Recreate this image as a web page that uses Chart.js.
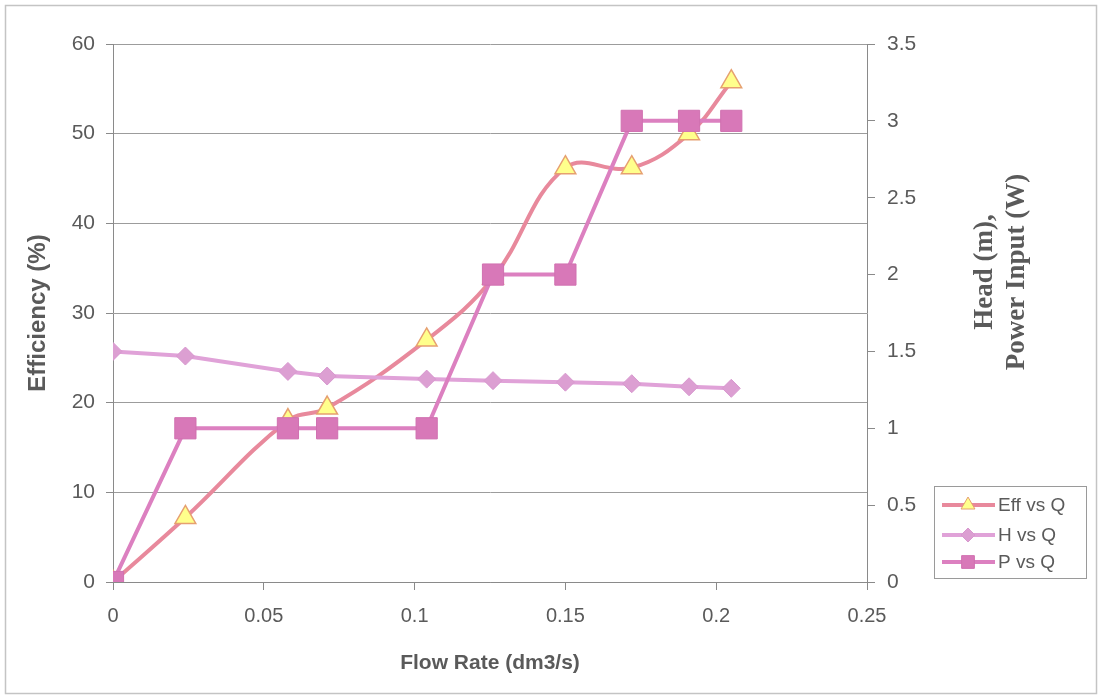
<!DOCTYPE html>
<html>
<head>
<meta charset="utf-8">
<script src="https://cdn.jsdelivr.net/npm/chart.js@4.4.1/dist/chart.umd.min.js"></script>
<style>
html, body { margin: 0; padding: 0; background: #fff; }
#wrap { width: 1102px; height: 700px; }
</style>
</head>
<body>
<div id="wrap"><canvas id="pump" width="1102" height="700"></canvas></div>
<script>
// values
const flowRate = [0, 0.024, 0.058, 0.071, 0.104, 0.126, 0.150, 0.172, 0.191, 0.205];
const efficiency = [0, 7.2, 18.0, 19.4, 27.0, 33.9, 46.2, 46.2, 50.0, 55.8];
const head = [1.50, 1.47, 1.37, 1.34, 1.32, 1.31, 1.30, 1.29, 1.27, 1.26];
const power = [0, 1, 1, 1, 1, 2, 2, 3, 3, 3];

const seriesNames = ['Eff vs Q', 'H vs Q', 'P vs Q'];
const xTickLabels = ['0', '0.05', '0.1', '0.15', '0.2', '0.25'];
const leftTickLabels = ['0', '10', '20', '30', '40', '50', '60'];
const rightTickLabels = ['0', '0.5', '1', '1.5', '2', '2.5', '3', '3.5'];

const xTitle = 'Flow Rate (dm3/s)';
const leftTitle = 'Efficiency (%)';
const rightTitle = ['Head (m),', 'Power Input (W)'];

const toPoints = ys => flowRate.map((x, i) => ({ x: x, y: ys[i] }));

const sans = 'Liberation Sans, Arial, sans-serif';
const serif = 'Liberation Serif, Times New Roman, serif';
const axisGray = '#8a8a8a';
const textGray = '#5a5a5a';

const framePlugin = {
  id: 'frame',
  beforeDraw(chart) {
    const ctx = chart.ctx;
    ctx.save();
    ctx.fillStyle = '#ffffff';
    ctx.fillRect(0, 0, chart.width, chart.height);
    ctx.strokeStyle = '#c4c4c4';
    ctx.lineWidth = 1.5;
    ctx.strokeRect(5.5, 5.5, chart.width - 11, chart.height - 12);
    ctx.restore();
  },
  afterDraw(chart) {
    const ctx = chart.ctx;
    ctx.save();

    // right axis title, reads bottom to top
    ctx.fillStyle = textGray;
    ctx.font = 'bold 27px ' + serif;
    ctx.textAlign = 'center';
    ctx.textBaseline = 'middle';
    rightTitle.forEach((line, i) => {
      ctx.save();
      ctx.translate(985 + i * 32, 272);
      ctx.rotate(-Math.PI / 2);
      ctx.fillText(line, 0, 0);
      ctx.restore();
    });

    // legend box
    const bx = 934, by = 486, bw = 152, bh = 92;
    ctx.fillStyle = '#ffffff';
    ctx.fillRect(bx, by, bw, bh);
    ctx.strokeStyle = '#9a9a9a';
    ctx.lineWidth = 1;
    ctx.strokeRect(bx + 0.5, by + 0.5, bw, bh);

    const rows = [505, 535, 562];
    chart.data.datasets.forEach((ds, i) => {
      const y = rows[i];
      ctx.strokeStyle = ds.borderColor;
      ctx.lineWidth = 4;
      ctx.beginPath();
      ctx.moveTo(942, y);
      ctx.lineTo(995, y);
      ctx.stroke();
      ctx.fillStyle = ds.pointBackgroundColor;
      ctx.strokeStyle = ds.pointBorderColor;
      ctx.lineWidth = 1;
      Chart.helpers.drawPoint(ctx, {
        pointStyle: ds.pointStyle,
        radius: ds.legendRadius,
        rotation: 0,
        borderWidth: 1
      }, 968, y);
      ctx.fillStyle = textGray;
      ctx.font = '19px ' + sans;
      ctx.textAlign = 'left';
      ctx.textBaseline = 'middle';
      ctx.fillText(ds.label, 998, y + 1);
    });
    ctx.restore();
  }
};

new Chart(document.getElementById('pump'), {
  type: 'line',
  data: {
    datasets: [
      {
        label: seriesNames[0],
        data: toPoints(efficiency),
        yAxisID: 'y',
        borderColor: '#e8899c',
        borderWidth: 4,
        tension: 0.4,
        pointStyle: 'triangle',
        pointRadius: 12,
        legendRadius: 8,
        pointBackgroundColor: '#ffff8c',
        pointBorderColor: '#e6a070',
        pointBorderWidth: 1.5,
        order: 3
      },
      {
        label: seriesNames[1],
        data: toPoints(head),
        yAxisID: 'y1',
        borderColor: '#e0a2d8',
        borderWidth: 4,
        tension: 0,
        pointStyle: 'rectRot',
        pointRadius: 9,
        legendRadius: 7,
        pointBackgroundColor: '#dc9fd2',
        pointBorderColor: '#d898cf',
        pointBorderWidth: 1,
        order: 2
      },
      {
        label: seriesNames[2],
        data: toPoints(power),
        yAxisID: 'y1',
        borderColor: '#dc80c0',
        borderWidth: 4,
        tension: 0,
        pointStyle: 'rect',
        pointRadius: 15,
        legendRadius: 9,
        pointBackgroundColor: '#d878b8',
        pointBorderColor: '#d070b0',
        pointBorderWidth: 1,
        order: 1
      }
    ]
  },
  options: {
    responsive: false,
    animation: false,
    layout: { padding: { top: 44, left: 0, right: 0, bottom: 0 } },
    plugins: {
      legend: { display: false },
      tooltip: { enabled: false }
    },
    scales: {
      x: {
        type: 'linear',
        min: 0,
        max: 0.25,
        afterFit: s => { s.height = 118; },
        ticks: {
          stepSize: 0.05,
          padding: 14,
          color: textGray,
          font: { family: sans, size: 20 },
          maxRotation: 0,
          callback: (v, i) => xTickLabels[i]
        },
        grid: { drawOnChartArea: false, drawTicks: true, tickLength: 8, color: axisGray },
        border: { display: true, color: axisGray, width: 1 },
        title: {
          display: true,
          text: xTitle,
          color: textGray,
          font: { family: sans, size: 21, weight: 'bold' },
          padding: { top: 0, bottom: 24 }
        }
      },
      y: {
        position: 'left',
        min: 0,
        max: 60,
        afterFit: s => { s.width = 113; },
        ticks: {
          stepSize: 10,
          padding: 11,
          color: textGray,
          font: { family: sans, size: 21 },
          callback: (v, i) => leftTickLabels[i]
        },
        grid: { color: '#9c9c9c', lineWidth: 1, drawTicks: true, tickLength: 7, tickColor: axisGray },
        border: { display: true, color: axisGray, width: 1 },
        title: {
          display: true,
          text: leftTitle,
          color: textGray,
          font: { family: sans, size: 24, weight: 'bold' },
          padding: { top: 24, bottom: 0 }
        }
      },
      y1: {
        position: 'right',
        min: 0,
        max: 3.5,
        afterFit: s => { s.width = 235; },
        ticks: {
          stepSize: 0.5,
          padding: 12,
          color: textGray,
          font: { family: sans, size: 21 },
          callback: (v, i) => rightTickLabels[i]
        },
        grid: { drawOnChartArea: false, drawTicks: true, tickLength: 8, color: axisGray },
        border: { display: true, color: axisGray, width: 1 }
      }
    }
  },
  plugins: [framePlugin]
});
</script>
</body>
</html>
